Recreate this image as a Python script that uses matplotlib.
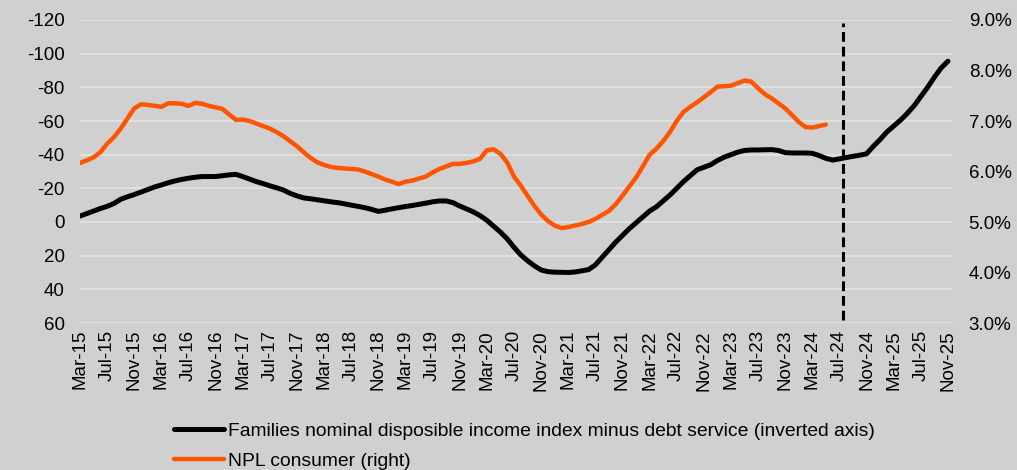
import numpy as np
import matplotlib
matplotlib.use("Agg")
import matplotlib.pyplot as plt

plt.rcParams['font.family'] = ['Liberation Sans', 'DejaVu Sans']
plt.rcParams['axes.unicode_minus'] = False

# monthly, Mar-15 .. Nov-25
months = []
for yr in range(2015, 2026):
    for m in ['Jan', 'Feb', 'Mar', 'Apr', 'May', 'Jun', 'Jul', 'Aug', 'Sep', 'Oct', 'Nov', 'Dec']:
        months.append("%s-%02d" % (m, yr % 100))
months = months[2:months.index("Nov-25") + 1]

# families nominal disposable income index minus debt service (left, inverted)
income = [
    -3.5, -5, -6.5, -8, -9.3, -11, -13.5, -15, -16.3, -17.8,
    -19.3, -20.8, -22, -23.3, -24.4, -25.3, -26, -26.6, -27, -27, -27, -27.5,
    -28, -28.3, -27, -25.5, -24, -22.8, -21.5, -20.3, -19, -17, -15.5, -14.3,
    -13.8, -13.2, -12.6, -12, -11.5, -10.8, -10, -9.3, -8.5, -7.5, -6.3, -7,
    -7.8, -8.5, -9.2, -9.8, -10.5, -11.2, -12, -12.5, -12.5, -11.5, -9.5, -7.8,
    -6, -3.8, -1, 2.5, 6, 10, 15, 19.5, 23, 26, 28.5, 29.5,
    29.8, 29.9, 30, 29.7, 29, 28.3, 25.5, 21, 16.5, 12, 8, 4,
    0.5, -3, -6.5, -9, -12.5, -16, -20, -24, -27.5, -31, -32.5, -34,
    -36.5, -38.5, -40, -41.5, -42.5, -42.8, -42.8, -42.9, -43, -42.5, -41.2, -41,
    -41, -41, -40.8, -39.5, -37.8, -36.8, -37.5, -38.3, -39, -39.7, -40.5, -45,
    -49, -53.5, -57, -60.5, -64.5, -69, -74.5, -80, -86, -91.5, -95.5,
]

# NPL consumer (right, %), Mar-15 .. May-24
npl = [
    6.17, 6.22, 6.28, 6.38, 6.55, 6.68, 6.85, 7.05, 7.25, 7.33,
    7.32, 7.3, 7.28, 7.35, 7.35, 7.34, 7.3, 7.36, 7.34, 7.3, 7.27, 7.24,
    7.13, 7.02, 7.03, 7.0, 6.95, 6.9, 6.85, 6.78, 6.7, 6.6, 6.5, 6.38,
    6.27, 6.18, 6.13, 6.09, 6.07, 6.06, 6.05, 6.04, 6.0, 5.95, 5.9, 5.84,
    5.8, 5.75, 5.8, 5.82, 5.86, 5.9, 5.98, 6.05, 6.1, 6.15, 6.15, 6.17,
    6.2, 6.25, 6.42, 6.44, 6.35, 6.18, 5.9, 5.72, 5.52, 5.32, 5.15, 5.02,
    4.93, 4.88, 4.9, 4.93, 4.96, 5.0, 5.06, 5.14, 5.22, 5.35, 5.52, 5.7,
    5.88, 6.1, 6.33, 6.45, 6.6, 6.78, 7.0, 7.18, 7.28, 7.37, 7.47, 7.57,
    7.68, 7.69, 7.7, 7.75, 7.8, 7.78, 7.65, 7.53, 7.45, 7.35, 7.25, 7.12,
    6.98, 6.88, 6.87, 6.9, 6.93,
]

split_month = "Jul-24"

bg = '#d0d0d0'
fig = plt.figure(figsize=(10.17, 4.70), dpi=100, facecolor=bg)
ax = fig.add_axes([80/1017, 1 - 323/470, 872/1017, 303/470])
ax.set_facecolor(bg)
ax2 = ax.twinx()

x = np.arange(len(months))
ax.plot(x, income, color='black', lw=3.6, solid_capstyle='round', zorder=3,
        label='Families nominal disposible income index minus debt service (inverted axis)')
ax2.plot(x[:len(npl)], npl, color='#ff5500', lw=3.2, solid_capstyle='round', zorder=3,
         label='NPL consumer (right)')
ax.axvline(months.index(split_month) + 0.5, ymin=0.01, ymax=0.99, color='black',
           lw=2.2, ls=(0, (3.2, 1.6)), zorder=4)

ax.set_ylim(60, -120)
ax.set_yticks(np.arange(-120, 61, 20))
ax2.set_ylim(3, 9)
ax2.set_yticks(np.arange(3, 9.01, 1))
ax2.set_yticklabels(["%.1f%%" % v for v in np.arange(3, 9.01, 1)])
ax.set_xlim(0, len(months) - 0.4)
ax.set_xticks(x[::4])
ax.set_xticklabels(months[::4], rotation=90)

ax.grid(axis='y', color='#e2e2e2', lw=1.3)
ax.set_axisbelow(True)
for a in (ax, ax2):
    for s in a.spines.values():
        s.set_visible(False)
    a.tick_params(length=0, labelsize=13.5, colors='black')
ax.tick_params(axis='y', pad=11)
ax2.tick_params(axis='y', pad=12)
ax.tick_params(axis='x', pad=5)

h1, l1 = ax.get_legend_handles_labels()
h2, l2 = ax2.get_legend_handles_labels()
fig.legend(h1 + h2, l1 + l2, loc='upper left', bbox_to_anchor=(166/1017, 1 - 415/470),
           frameon=False, fontsize=13.9, handlelength=2.6, handletextpad=0.2,
           labelspacing=0.62, borderaxespad=0)

fig.savefig('out.png', dpi=100, facecolor=bg)
